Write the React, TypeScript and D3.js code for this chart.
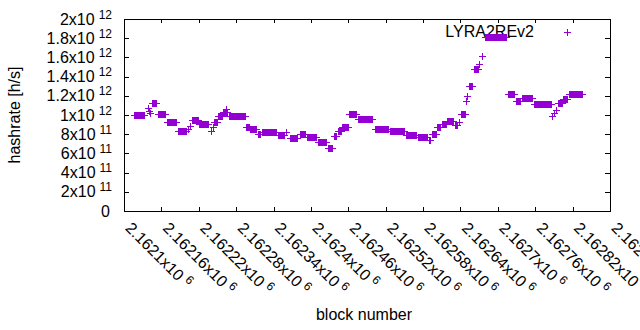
import React from 'react';
import * as d3 from 'd3';

const width = 640;
const height = 330;
const margin = { top: 19, right: 30, bottom: 119, left: 124 };

// hashrate, as runs of blocks sharing one value (h/s)
const runStart = [
  2162116, 2162139, 2162140, 2162142, 2162145, 2162155, 2162169, 2162187, 2162203, 2162206,
  2162209, 2162220, 2162240, 2162243, 2162244, 2162251, 2162259, 2162264, 2162269, 2162296,
  2162302, 2162315, 2162321, 2162347, 2162360, 2162366, 2162382, 2162394, 2162411, 2162427,
  2162437, 2162443, 2162450, 2162461, 2162476, 2162503, 2162527, 2162553, 2162572, 2162590,
  2162594, 2162602, 2162610, 2162618, 2162631, 2162638, 2162641, 2162649, 2162650, 2162654,
  2162662, 2162670, 2162675, 2162680, 2162716, 2162729, 2162739, 2162758, 2162787, 2162790,
  2162793, 2162797, 2162805, 2162814
];
const runEnd = [
  2162132, 2162139, 2162140, 2162142, 2162151, 2162166, 2162183, 2162200, 2162203, 2162206,
  2162219, 2162235, 2162240, 2162243, 2162249, 2162257, 2162265, 2162264, 2162294, 2162301,
  2162312, 2162318, 2162344, 2162357, 2162360, 2162378, 2162391, 2162408, 2162424, 2162434,
  2162440, 2162449, 2162460, 2162472, 2162498, 2162524, 2162549, 2162569, 2162586, 2162591,
  2162601, 2162607, 2162617, 2162628, 2162634, 2162638, 2162647, 2162649, 2162650, 2162659,
  2162668, 2162670, 2162675, 2162713, 2162726, 2162736, 2162755, 2162785, 2162787, 2162790,
  2162793, 2162803, 2162811, 2162835
];
const runHashrate = [
  1.0e12, 1.07e12, 1.04e12, 1.02e12, 1.12e12, 1.01e12, 0.93e12, 0.83e12, 0.85e12, 0.89e12,
  0.95e12, 0.91e12, 0.83e12, 0.87e12, 0.93e12, 0.99e12, 1.03e12, 1.06e12, 0.99e12, 0.88e12,
  0.85e12, 0.8e12, 0.82e12, 0.79e12, 0.82e12, 0.76e12, 0.8e12, 0.77e12, 0.72e12, 0.66e12,
  0.78e12, 0.83e12, 0.875e12, 1.01e12, 0.96e12, 0.85e12, 0.83e12, 0.795e12, 0.77e12, 0.74e12,
  0.8e12, 0.87e12, 0.91e12, 0.94e12, 0.9e12, 0.93e12, 1.01e12, 1.15e12, 1.195e12, 1.3e12,
  1.48e12, 1.53e12, 1.61e12, 1.81e12, 1.215e12, 1.15e12, 1.18e12, 1.11e12, 0.99e12, 1.02e12,
  1.05e12, 1.13e12, 1.165e12, 1.215e12
];

const xTicks = [
  2162100, 2162160, 2162220, 2162280, 2162340, 2162400, 2162460,
  2162520, 2162580, 2162640, 2162700, 2162760, 2162820, 2162880
];
const yTicks = [0, 2e11, 4e11, 6e11, 8e11, 1e12, 1.2e12, 1.4e12, 1.6e12, 1.8e12, 2e12];
const seriesName = 'LYRA2REv2';
const color = '#9400d3';

const font = '"Liberation Sans", Arial, sans-serif';

function sci(v: number) {
  if (v === 0) return null;
  const exp = Math.floor(Math.log10(v) + 1e-9);
  const mant = parseFloat((v / Math.pow(10, exp)).toFixed(6)).toString();
  return { mant, exp };
}

export default function App() {
  const innerW = width - margin.left - margin.right;
  const innerH = height - margin.top - margin.bottom;

  const x = d3.scaleLinear().domain([xTicks[0], xTicks[xTicks.length - 1]]).range([margin.left, margin.left + innerW]);
  const y = d3.scaleLinear().domain([0, 2e12]).range([margin.top + innerH, margin.top]);

  // one point per block
  const points: [number, number][] = [];
  runStart.forEach((s, i) => {
    for (let b = s; b <= runEnd[i]; b++) points.push([b, runHashrate[i]]);
  });

  const s = 3.5;
  const plus = (cx: number, cy: number) => {
    const px = Math.round(cx) + 0.5, py = Math.round(cy) + 0.5;
    return `M${px - s},${py}h${2 * s}M${px},${py - s}v${2 * s}`;
  };
  const markerPath = points.map(p => plus(x(p[0]), y(p[1]))).join('');

  const left = margin.left, right = margin.left + innerW;
  const top = margin.top, bottom = margin.top + innerH;

  return (
    <svg width={width} height={height} style={{ position: 'absolute', left: 0, top: 0, background: '#fff' }}
      fontFamily={font}>
      <rect x={0} y={0} width={width} height={height} fill="#fff" />

      {/* ticks, mirrored on all sides */}
      <g stroke="#000" strokeWidth={1}>
        {yTicks.map(t => {
          const yy = Math.round(y(t)) + 0.5;
          return (
            <g key={'yt' + t}>
              <line x1={left} x2={left + 5} y1={yy} y2={yy} />
              <line x1={right - 5} x2={right} y1={yy} y2={yy} />
            </g>
          );
        })}
        {xTicks.map(t => {
          const xx = Math.round(x(t)) + 0.5;
          return (
            <g key={'xt' + t}>
              <line x1={xx} x2={xx} y1={bottom} y2={bottom - 4} />
              <line x1={xx} x2={xx} y1={top} y2={top + 4} />
            </g>
          );
        })}
      </g>

      {/* y tick labels */}
      <g fontSize={16} fill="#000">
        {yTicks.map(t => {
          const f = sci(t);
          const yy = y(t) + 5.5;
          if (!f) return <text key={'yl' + t} x={110} y={yy} textAnchor="end">0</text>;
          return (
            <text key={'yl' + t} x={112} y={yy} textAnchor="end">
              {f.mant + 'x10'}
              <tspan dx={4} dy={-6} fontSize={12}>{f.exp}</tspan>
            </text>
          );
        })}
      </g>

      {/* x tick labels, rotated */}
      <g fontSize={16} fill="#000">
        {xTicks.map(t => {
          const f = sci(t)!;
          return (
            <text key={'xl' + t} transform={`translate(${x(t) + 0.5},229) rotate(45)`}>
              {f.mant + 'x10'}
              <tspan dx={4} dy={-6} fontSize={12}>{f.exp}</tspan>
            </text>
          );
        })}
      </g>

      {/* axis titles */}
      <text x={364} y={320} fontSize={16} textAnchor="middle">block number</text>
      <text transform="translate(20,115) rotate(-90)" fontSize={16} textAnchor="middle">hashrate [h/s]</text>

      {/* key */}
      <text x={534} y={37} fontSize={16} textAnchor="end">{seriesName}</text>
      <path d={plus(567, 32)} stroke={color} strokeWidth={1} fill="none" />

      {/* data */}
      <path d={markerPath} stroke={color} strokeWidth={1} fill="none" />

      {/* border */}
      <rect x={left + 0.5} y={top + 0.5} width={innerW} height={innerH} fill="none" stroke="#000" strokeWidth={1} />
    </svg>
  );
}
